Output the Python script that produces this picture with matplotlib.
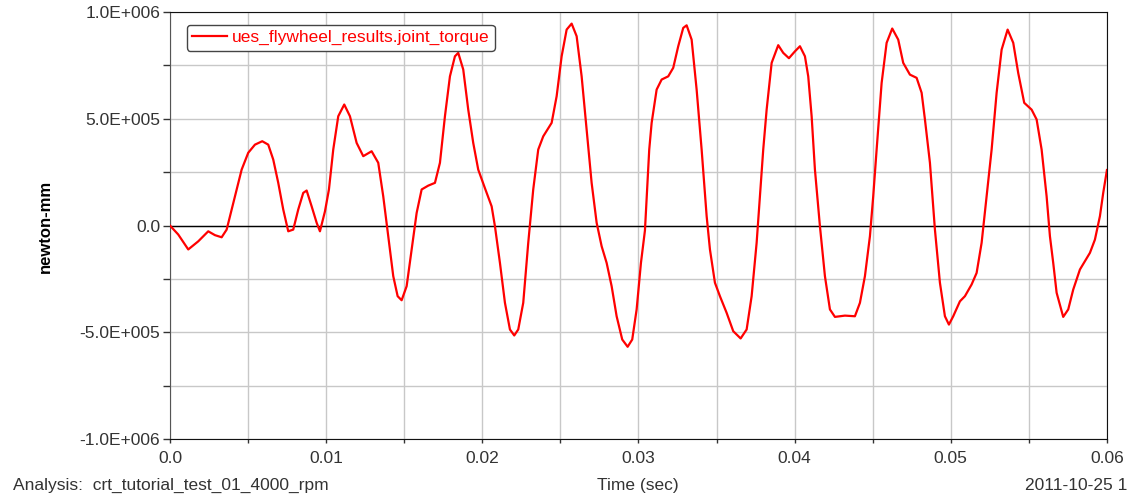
import matplotlib
matplotlib.use("Agg")
import matplotlib.pyplot as plt
from matplotlib.ticker import MultipleLocator

# values
time_ms = [0.0, 0.531, 1.172, 1.812, 2.452, 2.881, 3.310, 3.631, 3.951, 4.271,
           4.591, 5.014, 5.443, 5.910, 6.294, 6.615, 6.935, 7.255, 7.575, 7.895,
           8.215, 8.535, 8.753, 9.073, 9.394, 9.605, 9.925, 10.181, 10.457, 10.777,
           11.161, 11.526, 11.955, 12.378, 12.915, 13.338, 13.658, 13.978, 14.299, 14.580,
           14.836, 15.157, 15.477, 15.797, 16.117, 16.540, 16.969, 17.289, 17.609, 17.929,
           18.249, 18.461, 18.781, 19.101, 19.421, 19.741, 20.170, 20.599, 20.810, 21.131,
           21.451, 21.771, 22.047, 22.303, 22.623, 22.943, 23.263, 23.583, 23.904, 24.441,
           24.762, 25.082, 25.402, 25.722, 26.042, 26.362, 26.682, 27.002, 27.323, 27.643,
           27.963, 28.283, 28.603, 28.962, 29.308, 29.602, 29.884, 30.160, 30.416, 30.691,
           30.845, 31.165, 31.485, 31.908, 32.228, 32.548, 32.868, 33.086, 33.406, 33.726,
           34.046, 34.367, 34.578, 34.898, 35.218, 35.647, 36.070, 36.544, 36.928, 37.248,
           37.568, 37.779, 37.991, 38.209, 38.529, 38.951, 39.271, 39.636, 40.020, 40.341,
           40.661, 40.872, 41.090, 41.301, 41.621, 41.941, 42.262, 42.582, 43.222, 43.862,
           44.183, 44.503, 44.823, 45.034, 45.252, 45.572, 45.892, 46.251, 46.635, 46.955,
           47.384, 47.813, 48.133, 48.345, 48.665, 48.985, 49.305, 49.625, 49.881, 50.157,
           50.586, 50.906, 51.335, 51.655, 51.975, 52.296, 52.616, 52.936, 53.256, 53.640,
           54.000, 54.318, 54.703, 55.176, 55.497, 55.817, 56.137, 56.349, 56.560, 56.778,
           57.200, 57.521, 57.841, 58.270, 58.910, 59.230, 59.551, 59.762, 60.0]

torque = [0.0, -4.2e4, -1.12e5, -7.4e4, -2.7e4, -4.5e4, -5.5e4, -1.9e4, 7.5e4, 1.69e5,
          2.62e5, 3.41e5, 3.79e5, 3.95e5, 3.79e5, 3.09e5, 2.0e5, 7.5e4, -2.7e4, -1.9e4,
          7.5e4, 1.53e5, 1.64e5, 9.0e4, 1.3e4, -2.7e4, 6.6e4, 1.69e5, 3.56e5, 5.12e5,
          5.67e5, 5.12e5, 3.87e5, 3.25e5, 3.48e5, 2.94e5, 1.37e5, -5.0e4, -2.37e5, -3.31e5,
          -3.5e5, -2.84e5, -1.12e5, 5.9e4, 1.69e5, 1.87e5, 2.0e5, 2.94e5, 5.12e5, 6.99e5,
          7.93e5, 8.09e5, 7.31e5, 5.43e5, 3.87e5, 2.62e5, 1.75e5, 9.0e4, -3.0e3, -1.75e5,
          -3.62e5, -4.87e5, -5.15e5, -4.87e5, -3.62e5, -8.1e4, 1.69e5, 3.56e5, 4.18e5, 4.81e5,
          6.06e5, 7.93e5, 9.18e5, 9.46e5, 8.87e5, 6.99e5, 4.5e5, 2.0e5, 1.3e4, -9.7e4,
          -1.75e5, -2.84e5, -4.25e5, -5.34e5, -5.68e5, -5.34e5, -3.93e5, -1.75e5, -2.3e4, 3.56e5,
          4.81e5, 6.37e5, 6.84e5, 6.99e5, 7.39e5, 8.4e5, 9.26e5, 9.38e5, 8.71e5, 6.37e5,
          3.56e5, 4.4e4, -1.12e5, -2.68e5, -3.31e5, -4.09e5, -4.95e5, -5.29e5, -4.87e5, -3.31e5,
          -8.1e4, 1.37e5, 3.56e5, 5.43e5, 7.62e5, 8.45e5, 8.09e5, 7.84e5, 8.16e5, 8.4e5,
          7.93e5, 6.99e5, 5.12e5, 2.62e5, -3.0e3, -2.37e5, -3.93e5, -4.28e5, -4.22e5, -4.25e5,
          -3.62e5, -2.37e5, -5.0e4, 1.37e5, 3.56e5, 6.68e5, 8.56e5, 9.23e5, 8.71e5, 7.62e5,
          7.07e5, 6.92e5, 6.22e5, 4.97e5, 2.94e5, -1.9e4, -2.68e5, -4.25e5, -4.64e5, -4.25e5,
          -3.55e5, -3.31e5, -2.76e5, -2.22e5, -8.1e4, 1.37e5, 3.56e5, 6.22e5, 8.24e5, 9.18e5,
          8.56e5, 7.15e5, 5.75e5, 5.43e5, 4.97e5, 3.56e5, 1.37e5, -5.0e4, -1.75e5, -3.15e5,
          -4.28e5, -3.93e5, -3.0e5, -2.06e5, -1.28e5, -6.6e4, 4.4e4, 1.53e5, 2.6e5]

x_ticks = [0.0, 0.01, 0.02, 0.03, 0.04, 0.05, 0.06]
x_labels = ["0.0", "0.01", "0.02", "0.03", "0.04", "0.05", "0.06"]
y_ticks = [-1.0e6, -5.0e5, 0.0, 5.0e5, 1.0e6]
y_labels = ["-1.0E+006", "-5.0E+005", "0.0", "5.0E+005", "1.0E+006"]

plt.rcParams['font.family'] = ['Liberation Sans', 'DejaVu Sans']
fs = 12.5

fig = plt.figure(figsize=(11.33, 5.04), dpi=100)
ax = fig.add_axes([0.150, 0.129, 0.827, 0.847])

t = [v / 1000.0 for v in time_ms]
ax.plot(t, torque, color='#ff0000', lw=1.6, label='ues_flywheel_results.joint_torque',
        zorder=3, solid_joinstyle='round')
ax.axhline(0, color='black', lw=1.0, zorder=2)

ax.set_xlim(0, 0.06)
ax.set_ylim(-1.0e6, 1.0e6)
ax.set_xticks(x_ticks)
ax.set_xticklabels(x_labels)
ax.set_yticks(y_ticks)
ax.set_yticklabels(y_labels)
ax.xaxis.set_minor_locator(MultipleLocator(0.005))
ax.yaxis.set_minor_locator(MultipleLocator(2.5e5))
ax.grid(True, which='both', color='#c8c8c8', lw=1.0, zorder=0)
ax.set_axisbelow(True)
ax.tick_params(axis='both', which='both', direction='out', colors='#333333',
               labelsize=fs, width=1.0)
ax.tick_params(axis='y', which='both', length=5, pad=2)
ax.tick_params(axis='x', which='both', length=3, pad=6)
for side in ['top', 'bottom', 'right']:
    ax.spines[side].set_color('#111111')
ax.spines['left'].set_color('#555555')

leg = ax.legend(loc='upper left', bbox_to_anchor=(0.018, 0.970), borderaxespad=0,
                fancybox=True, framealpha=1, edgecolor='#444444', labelcolor='#ff0000',
                fontsize=fs, handlelength=2.0, handletextpad=0.3, borderpad=0.3)
leg.get_frame().set_linewidth(1.0)

fig.text(0.040, 0.5516, 'newton-mm', rotation=90, ha='center', va='center',
         fontsize=12, fontweight='bold', color='black')
fig.text(0.563, 0.036, 'Time (sec)', ha='center', va='center', fontsize=fs, color='#333333')
fig.text(0.0115, 0.036, 'Analysis:  crt_tutorial_test_01_4000_rpm', ha='left', va='center',
         fontsize=fs, color='#333333')
fig.text(0.905, 0.036, '2011-10-25 1', ha='left', va='center', fontsize=fs, color='#333333')

fig.savefig('out.png', dpi=100)
